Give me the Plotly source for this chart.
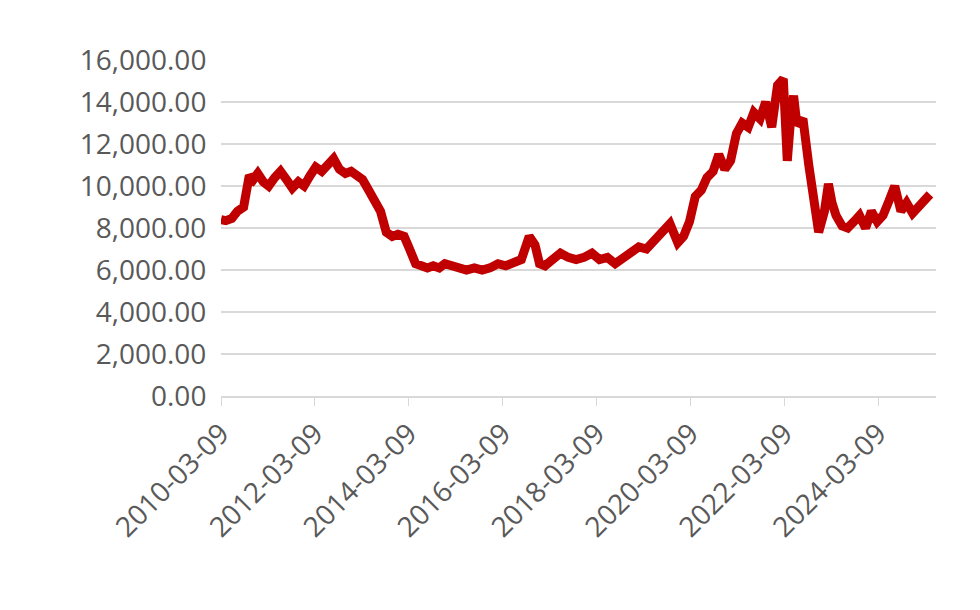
import plotly.graph_objects as go

dates = ["2010-03-09","2010-04-15","2010-06-01","2010-07-15","2010-09-01","2010-10-15","2010-11-15","2010-12-20",
"2011-02-01","2011-03-15","2011-05-01","2011-06-15","2011-08-01","2011-09-15","2011-11-01","2011-12-15",
"2012-02-01","2012-03-15","2012-05-01","2012-06-15","2012-08-01","2012-09-15","2012-11-01","2012-12-15",
"2013-02-01","2013-03-15","2013-05-01","2013-06-15","2013-08-01","2013-09-15","2013-11-01","2013-12-15",
"2014-02-01","2014-03-15","2014-05-01","2014-06-15","2014-08-01","2014-09-15","2014-11-01","2014-12-15",
"2015-02-01","2015-04-01","2015-06-01","2015-08-01","2015-10-01","2015-12-01","2016-02-01","2016-04-01",
"2016-06-01","2016-08-01","2016-10-01","2016-11-15","2016-12-20","2017-02-01","2017-04-01","2017-06-01",
"2017-08-01","2017-10-01","2017-12-01","2018-02-01","2018-04-01","2018-06-01","2018-08-01","2018-10-01",
"2018-12-01","2019-02-01","2019-04-01","2019-06-01","2019-08-01","2019-10-01","2019-12-01","2020-01-15",
"2020-03-01","2020-04-15","2020-06-01","2020-07-15","2020-09-01","2020-10-15","2020-12-01","2021-01-15",
"2021-03-01","2021-04-15","2021-06-01","2021-07-15","2021-09-01","2021-10-15","2021-12-01","2022-01-15",
"2022-03-01","2022-04-01","2022-05-01","2022-05-20","2022-06-15","2022-08-01","2022-09-15","2022-10-15",
"2022-12-01","2023-01-15","2023-02-15","2023-03-15","2023-04-15","2023-06-01","2023-07-15","2023-09-01",
"2023-10-15","2023-12-01","2024-01-15","2024-03-01","2024-04-15","2024-06-01","2024-07-15","2024-09-01",
"2024-10-15","2024-12-01","2025-01-15","2025-03-01","2025-04-15"]
values = [8400,8350,8450,8800,9000,10500,10300,10600,
10200,10000,10400,10700,10300,9900,10200,10000,
10500,10900,10700,11000,11300,10800,10600,10700,
10500,10300,9800,9200,8800,7800,7600,7700,
7600,7000,6300,6200,6100,6200,6100,6300,
6200,6100,6000,6100,6000,6100,6300,6200,
6400,6500,7600,7200,6300,6200,6500,6800,
6600,6500,6600,6800,6500,6600,6300,6600,
6900,7100,7000,7400,7800,8200,7300,7600,
8300,9500,9800,10400,10700,11500,10800,11200,
12500,13000,12800,13500,13200,14000,12800,14800,
15100,11200,13500,14300,12900,13200,11000,9500,
7800,8800,10100,9200,8600,8100,8000,8300,
8600,8000,8800,8300,8600,9300,10000,8800,
9200,8700,9000,9400,9600]
tick_dates = ["2010-03-09","2012-03-09","2014-03-09","2016-03-09","2018-03-09",
              "2020-03-09","2022-03-09","2024-03-09"]
y_ticks = [0,2000,4000,6000,8000,10000,12000,14000,16000]

fig = go.Figure(go.Scatter(x=dates, y=values, mode="lines",
                           line=dict(color="#C00000", width=9)))
fig.update_layout(
    width=980, height=610, paper_bgcolor="white", plot_bgcolor="white",
    margin=dict(l=213, r=52, t=52, b=222, autoexpand=False), showlegend=False,
    font=dict(family="Open Sans", color="#595959", size=28),
)
fig.update_xaxes(type="date", range=["2010-03-09","2025-06-01"], automargin=False,
                 tickvals=tick_dates, ticktext=tick_dates, tickangle=-45,
                 showgrid=False, showline=True, linecolor="#d9d9d9", linewidth=2,
                 ticks="outside", tickcolor="#d9d9d9", ticklen=8)
fig.update_yaxes(range=[0,16000], tickvals=y_ticks, tickformat=",.2f", automargin=False,
                 showgrid=True, gridcolor="#d9d9d9", gridwidth=2, zeroline=False,
                 ticklen=8, ticks="outside", tickcolor="white")
fig.write_html("out.html")
